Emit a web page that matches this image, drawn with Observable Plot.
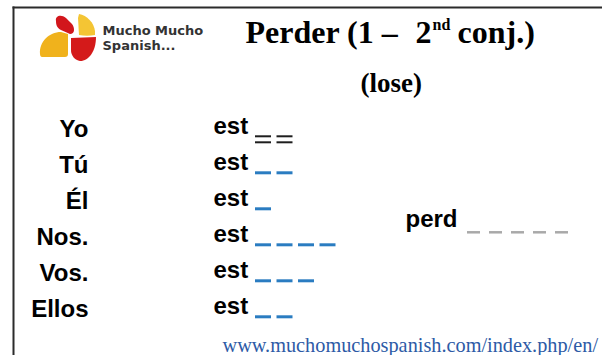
<!DOCTYPE html>
<html>
<head>
<meta charset="utf-8">
<script src="https://cdn.jsdelivr.net/npm/d3@7"></script>
<script src="https://cdn.jsdelivr.net/npm/@observablehq/plot@0.6"></script>
<style>
  html, body { margin: 0; padding: 0; background: #ffffff; }
  #chart svg { display: block; }
</style>
</head>
<body>
<div id="chart"></div>
<script>
// ---- data ----
const pronouns = ["Yo", "Tú", "Él", "Nos.", "Vos.", "Ellos"];
const stems = ["est", "est", "est", "est", "est", "est"];
const blankCounts = [2, 2, 1, 4, 3, 2];
const blankStyles = ["double", "single", "single", "single", "single", "single"];
const infinitiveStem = "perd";
const infinitiveBlanks = 5;
const titleParts = ["Perder (1 –", "2", "nd", "conj.)"];
const subtitle = "(lose)";
const brandLines = ["Mucho Mucho", "Spanish..."];
const url = "www.muchomuchospanish.com/index.php/en/";

// ---- tables built from the data ----
const rows = pronouns.map((p, i) => ({i, pronoun: p, stem: stems[i]}));
const blanks = rows.flatMap((r) =>
  d3.range(blankCounts[r.i]).map((j) => ({i: r.i, j, style: blankStyles[r.i]}))
);
const midRow = (pronouns.length - 1) / 2;
const infBlanks = d3.range(infinitiveBlanks).map((j) => ({i: midRow, j}));

// ---- layout ----
const W = 602, H = 355;
const ML = 13, MT = 7;
const pronounX = 88, stemX = 213;
const blankX0 = 255, blankPitch = 21.5, blankLen = 16;
const infX = 405, infBlankX0 = 467, infBlankPitch = 22, infBlankLen = 13;
const sans = "'Liberation Sans', Arial, Helvetica, sans-serif";
const serif = "'Liberation Serif', 'Times New Roman', Times, serif";
const brandFont = "'DejaVu Sans', Verdana, sans-serif";

// text at absolute spot: x = left edge, baseline b, font size s
function at(x, baseline, size) {
  return {frameAnchor: "top-left", textAnchor: "start", lineAnchor: "middle",
          dx: x - ML, dy: baseline - MT - 0.32 * size, fontSize: size};
}

function logoMark() {
  return () => {
    const g = d3.create("svg:g");
    const shapes = [
      {d: "M56,21 C55,16 61,14 66,18 L72,24 C75,28 75,34 70,34 L61,30 C57,28 56,25 56,21 Z", fill: "#d2161c"},
      {d: "M79,14 C87,15 94,23 95,31 L95,35 C90,36 84,36 79,35 L78,18 Z", fill: "#f4c534"},
      {d: "M40,54 C39,42 49,32 61,32 L68,34 L68,54 C68,56 67,57 65,57 L42,57 C41,57 40,56 40,54 Z", fill: "#f0b21c"},
      {d: "M71,38 L96,37 C96,51 89,61 80,61 C75,60 71,56 71,50 Z", fill: "#d41a1a"}
    ];
    for (const s of shapes) g.append("path").attr("d", s.d).attr("fill", s.fill);
    return g.node();
  };
}

const plot = Plot.plot({
  width: W,
  height: H,
  marginLeft: ML,
  marginTop: MT,
  marginRight: 0,
  marginBottom: 0,
  style: {background: "#ffffff"},
  x: {type: "linear", domain: [0, W], range: [0, W], axis: null},
  y: {type: "linear", domain: [0, pronouns.length - 1], range: [129.3, 309.3], axis: null},
  marks: [
    Plot.frame({anchor: "top", stroke: "#2b2b2b", strokeWidth: 2}),
    Plot.frame({anchor: "left", stroke: "#2b2b2b", strokeWidth: 2}),
    logoMark(),
    // brand text
    Plot.text([brandLines[0]], {text: (d) => d, ...at(102, 34, 13), fontFamily: brandFont, fontWeight: "bold", fill: "#333333"}),
    Plot.text([brandLines[1]], {text: (d) => d, ...at(102, 49, 13), fontFamily: brandFont, fontWeight: "bold", fill: "#333333"}),
    // title
    Plot.text([titleParts[0]], {text: (d) => d, ...at(245, 42, 32), fontFamily: serif, fontWeight: "bold", fill: "#000"}),
    Plot.text([titleParts[1]], {text: (d) => d, ...at(415, 42, 32), fontFamily: serif, fontWeight: "bold", fill: "#000"}),
    Plot.text([titleParts[2]], {text: (d) => d, ...at(432, 29, 16), fontFamily: serif, fontWeight: "bold", fill: "#000"}),
    Plot.text([titleParts[3]], {text: (d) => d, ...at(457, 42, 32), fontFamily: serif, fontWeight: "bold", fill: "#000"}),
    Plot.text([subtitle], {text: (d) => d, ...at(360, 91, 27), fontFamily: serif, fontWeight: "bold", fill: "#000"}),
    // pronouns
    Plot.text(rows, {x: () => pronounX, y: "i", text: "pronoun", textAnchor: "end", dy: 0,
      fontFamily: sans, fontWeight: "bold", fontSize: 24, fill: "#000"}),
    // stems
    Plot.text(rows, {x: () => stemX, y: "i", text: "stem", textAnchor: "start", dy: -3,
      fontFamily: sans, fontWeight: "bold", fontSize: 24, fill: "#000"}),
    // single blue blanks
    Plot.ruleY(blanks.filter((d) => d.style === "single"), {
      y: "i", x1: (d) => blankX0 + d.j * blankPitch, x2: (d) => blankX0 + d.j * blankPitch + blankLen,
      dy: 7, stroke: "#2a7cc1", strokeWidth: 3
    }),
    // double (=) blanks
    Plot.ruleY(blanks.filter((d) => d.style === "double"), {
      y: "i", x1: (d) => blankX0 + d.j * blankPitch, x2: (d) => blankX0 + d.j * blankPitch + blankLen,
      dy: 6.5, stroke: "#1e1e1e", strokeWidth: 2
    }),
    Plot.ruleY(blanks.filter((d) => d.style === "double"), {
      y: "i", x1: (d) => blankX0 + d.j * blankPitch, x2: (d) => blankX0 + d.j * blankPitch + blankLen,
      dy: 12.5, stroke: "#1e1e1e", strokeWidth: 2
    }),
    // infinitive stem + blanks
    Plot.text([{i: midRow, t: infinitiveStem}], {x: () => infX, y: "i", text: "t", textAnchor: "start", dy: 0,
      fontFamily: sans, fontWeight: "bold", fontSize: 24, fill: "#000"}),
    Plot.ruleY(infBlanks, {
      y: "i", x1: (d) => infBlankX0 + d.j * infBlankPitch, x2: (d) => infBlankX0 + d.j * infBlankPitch + infBlankLen,
      dy: 12.5, stroke: "#a9a9a9", strokeWidth: 2.5
    }),
    // url
    Plot.text([url], {text: (d) => d, ...at(222, 351, 20.3), fontFamily: serif, fill: "#2d5aa6"})
  ]
});

document.getElementById("chart").appendChild(plot);
</script>
</body>
</html>
